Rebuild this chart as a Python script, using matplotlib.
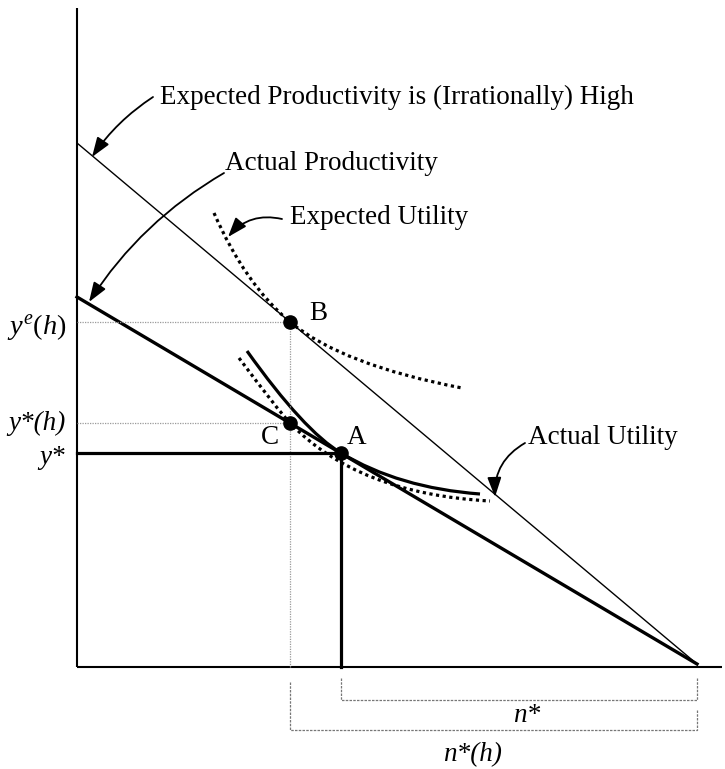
import matplotlib

matplotlib.use("Agg")
import matplotlib.pyplot as plt
from matplotlib.patches import PathPatch
from matplotlib.path import Path

plt.rcParams["font.family"] = ["Liberation Serif", "DejaVu Serif"]
plt.rcParams["mathtext.fontset"] = "custom"
plt.rcParams["mathtext.it"] = "Liberation Serif:italic"
plt.rcParams["mathtext.rm"] = "Liberation Serif"

# diagram geometry (origin at the corner of the axes, y upward)
n_max = 620
expected_intercept = 524
actual_intercept = 370
line_end_y = 3

point_b = (213, 345)
point_c = (213, 244)
point_a = (264, 214)

# indifference curves: start, control, through-point, control, end
expected_utility = [(137, 454), (168, 383), (213, 345), (265, 302), (385, 279)]
actual_utility = [(170, 316), (227, 236), (264, 214), (322, 179), (403, 173)]
actual_utility_low = [(162, 309), (200, 258), (213, 244), (281, 173), (413, 166)]

FS = 19.5


def bezier(ax, pts, **kw):
    codes = [Path.MOVETO] + [Path.CURVE3] * 4
    ax.add_patch(PathPatch(Path(pts, codes), fill=False, **kw))


def arrow(ax, tip, start, rad):
    ax.annotate(
        "", xy=tip, xytext=start,
        arrowprops=dict(arrowstyle="-|>,head_length=0.7,head_width=0.25",
                        connectionstyle=f"arc3,rad={rad}",
                        lw=1.3, color="k", mutation_scale=17,
                        shrinkA=0, shrinkB=0),
    )


def main() -> int:
    fig = plt.figure(figsize=(7.25, 7.69), dpi=100)
    ax = fig.add_axes([0, 0, 1, 1])
    ax.set_xlim(-77, 648)
    ax.set_ylim(-102, 667)
    ax.axis("off")

    # axes
    ax.plot([0, 0], [0, 659], color="k", lw=1.5, solid_capstyle="butt")
    ax.plot([0, 645], [0, 0], color="k", lw=1.5, solid_capstyle="butt")

    # productivity lines
    ax.plot([0, n_max], [expected_intercept, line_end_y], color="k", lw=1.0)
    ax.plot([0, n_max], [actual_intercept, line_end_y], color="k", lw=2.4)

    # guides
    guide = dict(color="#9a9a9a", lw=0.9, linestyle=(0, (1, 1)))
    ax.plot([0, point_b[0]], [point_b[1], point_b[1]], **guide)
    ax.plot([0, point_c[0]], [point_c[1], point_c[1]], **guide)
    ax.plot([point_b[0], point_b[0]], [0, point_b[1]], **guide)

    # y* and n* lines
    ax.plot([0, point_a[0]], [point_a[1], point_a[1]], color="k", lw=2.3)
    ax.plot([point_a[0], point_a[0]], [0, point_a[1]], color="k", lw=2.3)

    # utility curves
    dots = dict(color="k", lw=2.3, linestyle=(0, (1, 1.1)), capstyle="butt")
    bezier(ax, expected_utility, **dots)
    bezier(ax, actual_utility_low, **dots)
    bezier(ax, actual_utility, color="k", lw=2.3)

    # points
    for p in (point_a, point_b, point_c):
        ax.plot(*p, "o", color="k", ms=9.5)

    # brackets below the axis
    br = dict(color="#777777", lw=0.9, linestyle=(0, (2, 1)))
    ax.plot([point_a[0], point_a[0], n_max, n_max], [-11, -33, -33, -11], **br)
    ax.plot([point_c[0], point_c[0], n_max, n_max], [-15, -63, -63, -43], **br)

    # labels
    ax.text(241, 354, "B", fontsize=FS, ha="center", va="center")
    ax.text(193, 230, "C", fontsize=FS, ha="center", va="center")
    ax.text(280, 230, "A", fontsize=FS, ha="center", va="center")

    ax.text(-11, 340, r"$y^{e}(h)$", fontsize=FS + 1, ha="right", va="center")
    ax.text(-11, 244, "y*(h)", fontsize=FS, style="italic", ha="right", va="center")
    ax.text(-12, 209, "y*", fontsize=FS, style="italic", ha="right", va="center")
    ax.text(450, -48, "n*", fontsize=FS, style="italic", ha="center", va="center")
    ax.text(395, -88, "n*(h)", fontsize=FS, style="italic", ha="center", va="center")

    ax.text(83, 570, "Expected Productivity is (Irrationally) High",
            fontsize=FS, ha="left", va="center")
    ax.text(148, 504, "Actual Productivity", fontsize=FS, ha="left", va="center")
    ax.text(213, 450, "Expected Utility", fontsize=FS, ha="left", va="center")
    ax.text(451, 230, "Actual Utility", fontsize=FS, ha="left", va="center")

    arrow(ax, (15, 510), (76, 570), 0.1)
    arrow(ax, (12, 365), (147, 494), 0.12)
    arrow(ax, (151, 430), (205, 448), 0.3)
    arrow(ax, (418, 170), (448, 224), 0.3)

    fig.savefig("out.png", dpi=100)
    plt.close(fig)
    return 0


if __name__ == "__main__":
    raise SystemExit(main())
